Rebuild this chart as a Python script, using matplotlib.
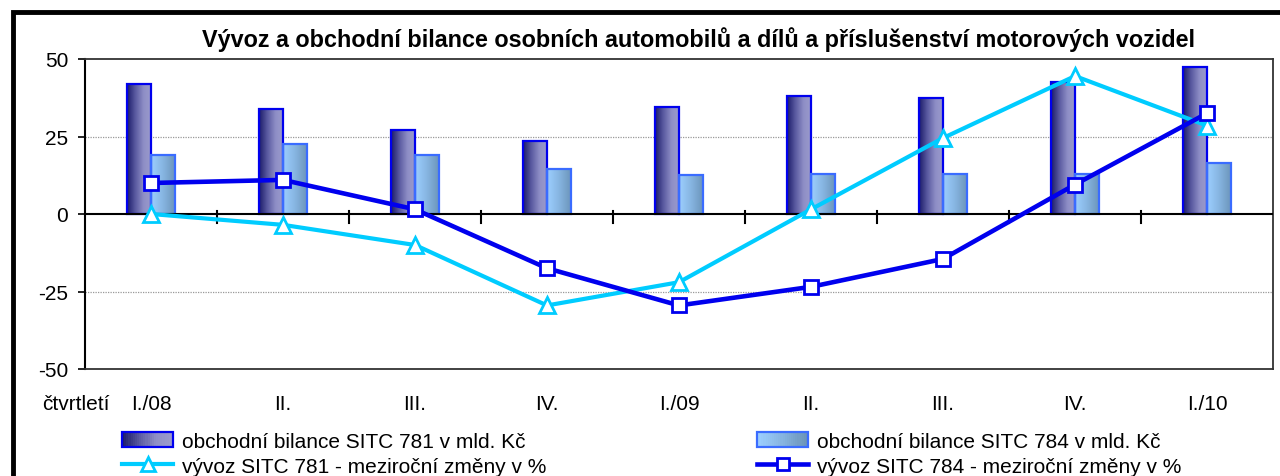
import numpy as np
import matplotlib
matplotlib.use("Agg")
import matplotlib.pyplot as plt
import matplotlib.transforms as mtrans
from matplotlib.patches import Rectangle
from matplotlib.lines import Line2D
from matplotlib.legend_handler import HandlerBase
from matplotlib.colors import LinearSegmentedColormap

plt.rcParams['font.family'] = ['Liberation Sans', 'DejaVu Sans']

categories = ["I./08", "II.", "III.", "IV.", "I./09", "II.", "III.", "IV.", "I./10"]
bal_781 = [42, 34, 27, 23.5, 34.5, 38, 37.5, 42.5, 47.5]
bal_784 = [19, 22.5, 19, 14.5, 12.5, 13, 13, 13, 16.5]
exp_781 = [0, -3.5, -10, -29.5, -22, 1.5, 24.5, 44.5, 28.5]
exp_784 = [10, 11, 1.5, -17.5, -29.5, -23.5, -14.5, 9.5, 32.5]
yticks = [-50, -25, 0, 25, 50]

title = "Vývoz a obchodní bilance osobních automobilů a dílů a příslušenství motorových vozidel"
lab_b781 = "obchodní bilance SITC 781 v mld. Kč"
lab_b784 = "obchodní bilance SITC 784 v mld. Kč"
lab_e781 = "vývoz SITC 781 - meziroční změny v %"
lab_e784 = "vývoz SITC 784 - meziroční změny v %"
xlabel = "čtvrtletí"

cmap_dark = LinearSegmentedColormap.from_list("dk", ["#1c1c6a", "#5a5aa0", "#8e8ec6", "#9c9ccc"])
cmap_light = LinearSegmentedColormap.from_list("lt", ["#9ccfff", "#86b4e0", "#6a93b8"])
edge_dark = "#0000ee"
edge_light = "#3a6cff"
c_exp781 = "#00ccff"
c_exp784 = "#0000ee"

W, H = 1280, 477
fig = plt.figure(figsize=(12.8, 4.77), dpi=100)
ax = fig.add_axes([85/W, 1-370/H, (1273-85)/W, (370-60)/H])

x = np.arange(len(categories))
w = 0.185
grad = np.linspace(0, 1, 64).reshape(1, -1)

def grad_bars(xpos, vals, cmap, edge):
    bars = ax.bar(xpos, vals, width=w, facecolor='none', edgecolor=edge, linewidth=1.6, zorder=3)
    for b in bars:
        x0, y0 = b.get_x(), b.get_y()
        bw, bh = b.get_width(), b.get_height()
        im = ax.imshow(grad, cmap=cmap, aspect='auto', extent=[x0, x0+bw, y0, y0+bh],
                       zorder=2, interpolation='bilinear')
        im.set_clip_path(b)
    return bars

grad_bars(x - w/2, bal_781, cmap_dark, edge_dark)
grad_bars(x + w/2, bal_784, cmap_light, edge_light)

ax.plot(x, exp_781, color=c_exp781, lw=3, marker='^', ms=12, mfc='white', mec=c_exp781, mew=2, zorder=5)
ax.plot(x, exp_784, color=c_exp784, lw=3.3, marker='s', ms=10.5, mfc='white', mec=c_exp784, mew=2, zorder=6)

ax.set_xlim(-0.5, len(categories) - 0.5)
ax.set_ylim(-50, 50)
ax.set_yticks(yticks)
ax.set_yticklabels([str(v) for v in yticks], fontsize=15)
ax.tick_params(axis='y', direction='out', length=5, width=1.2, pad=7)
for yv in [25, -25]:
    ax.axhline(yv, color='#999999', lw=0.9, ls=(0, (1, 1)), zorder=1)
ax.axhline(0, color='black', lw=1.5, zorder=4)

# category boundary ticks on zero line
ax.set_xticks([])
for b in np.arange(0.5, len(categories) - 0.5, 1.0):
    ax.plot([b, b], [-3, 1], color='black', lw=1.5, zorder=4, clip_on=False)

lab_tr = mtrans.blended_transform_factory(ax.transData, fig.transFigure)
for xi, lab in zip(x, categories):
    ax.text(xi, 1-410/H, lab, ha='center', va='baseline', fontsize=15, transform=lab_tr)
fig.text(42/W, 1-410/H, xlabel, ha='left', va='baseline', fontsize=15)

for sp in ['top', 'right', 'bottom']:
    ax.spines[sp].set_color('#333333')
    ax.spines[sp].set_linewidth(1.3)
ax.spines['left'].set_linewidth(1.5)

fig.text(698/W, 1-47/H, title, ha='center', va='baseline', fontsize=16.8, fontweight='bold')

# outer frame
fig.patches.append(Rectangle((13/W, -0.05), 1.2, 1-13/H + 0.05, transform=fig.transFigure,
                             fill=False, edgecolor='black', lw=3.5))

class GradHandler(HandlerBase):
    def __init__(self, cmap, edge):
        super().__init__()
        self.cmap = cmap
        self.edge = edge
    def create_artists(self, legend, orig_handle, xdescent, ydescent, width, height, fontsize, trans):
        arts = []
        n = 24
        for i in range(n):
            r = Rectangle((-xdescent + width*i/n, -ydescent), width/n + 0.3, height,
                          facecolor=self.cmap(i/(n-1)), edgecolor='none', transform=trans)
            arts.append(r)
        arts.append(Rectangle((-xdescent, -ydescent), width, height, facecolor='none',
                              edgecolor=self.edge, lw=1.6, transform=trans))
        return arts

h1 = Rectangle((0, 0), 1, 1)
h2 = Rectangle((0, 0), 1, 1)
h3 = Line2D([], [], color=c_exp781, lw=3, marker='^', ms=10, mfc='white', mec=c_exp781, mew=2)
h4 = Line2D([], [], color=c_exp784, lw=3.3, marker='s', ms=9, mfc='white', mec=c_exp784, mew=2)

common = dict(frameon=False, fontsize=15, handlelength=2.45, handleheight=0.75,
              handletextpad=0.45, labelspacing=0.28, borderpad=0, borderaxespad=0,
              loc='upper left')
leg1 = fig.legend([h1, h3], [lab_b781, lab_e781],
                  handler_map={h1: GradHandler(cmap_dark, edge_dark)},
                  bbox_to_anchor=(122/W, 1-433/H), **common)
leg2 = fig.legend([h2, h4], [lab_b784, lab_e784],
                  handler_map={h2: GradHandler(cmap_light, edge_light)},
                  bbox_to_anchor=(757/W, 1-433/H), **common)

fig.savefig("out.png", dpi=100)
